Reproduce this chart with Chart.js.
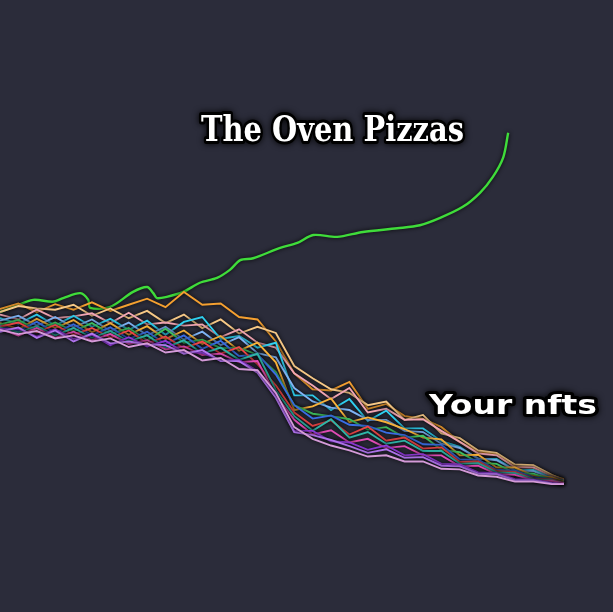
<!DOCTYPE html>
<html>
<head>
<meta charset="utf-8">
<script src="https://cdn.jsdelivr.net/npm/chart.js@4/dist/chart.umd.min.js"></script>
<style>
  html, body { margin: 0; padding: 0; background: #2b2c3a; }
  canvas { display: block; }
</style>
</head>
<body>
<canvas id="c" width="613" height="612"></canvas>
<script>
// ---- data ----
const titleMain = "The Oven Pizzas";
const titleNfts = "Your nfts";

const greenDays   = [0,2.1,5.4,8.6,10.3,13.1,14.4,14.7,17.9,21.7,24.0,25.0,25.6,27.2,29.9,32.6,35.4,37.5,39.2,41.3,45.7,48.5,51.1,55.0,59.2,64.8,68.5,71.8,75.5,78.3,80.4,82.1,82.9];
const greenValues = [49.0,49.8,51.0,50.7,51.3,52.1,51.0,49.7,49.8,52.3,53.1,52.1,51.3,51.5,52.3,53.8,54.6,55.9,57.5,57.8,59.5,60.3,61.6,61.3,62.1,62.7,63.2,64.4,66.2,68.5,71.1,74.3,78.3];

const nftDays = [0,3,6,9,12,15,18,21,24,27,30,33,36,39,42,45,48,51,54,57,60,63,66,69,72,75,78,81,84,87,90,92];

const nftOrange   = [49.5,50.4,49.0,50.3,49.4,50.6,49.2,50.2,51.2,49.8,52.3,50.2,50.4,48.2,47.8,44.2,39.0,36.4,36.2,37.6,33.2,34.0,32.0,31.6,30.2,27.8,26.2,25.8,23.8,23.6,22.3,21.7];
const nftPeach    = [49.0,50.0,49.6,49.4,50.2,48.4,49.6,48.0,49.2,47.2,48.6,46.4,47.8,45.5,46.6,45.6,40.2,38.2,36.4,35.8,33.8,34.4,31.4,32.2,29.2,28.4,26.4,26.0,24.1,24.0,22.4,21.6];
const nftPink     = [48.6,47.8,49.4,48.0,48.3,48.8,47.2,48.9,47.0,47.3,46.8,47.0,44.9,46.2,44.0,43.2,39.0,37.0,34.8,36.6,32.6,33.2,31.4,31.5,29.6,27.8,25.9,25.6,23.6,23.6,22.1,21.5];
const nftCyan     = [48.0,47.1,48.6,46.8,48.4,46.6,47.9,46.1,47.6,45.3,47.4,48.2,44.6,45.1,43.2,44.0,35.4,35.4,33.0,34.8,31.2,32.9,30.0,30.0,27.9,27.0,25.0,25.0,23.2,23.2,21.9,21.4];
const nftSky      = [47.6,48.4,46.8,48.2,46.5,47.8,45.9,47.3,45.2,46.6,44.5,45.8,43.6,44.9,42.3,41.6,36.6,34.4,33.4,33.0,31.4,31.4,29.6,29.4,27.5,26.8,25.1,24.8,23.1,23.0,21.8,21.3];
const nftAmber    = [47.2,46.2,47.9,46.4,47.7,45.7,47.2,45.3,46.7,44.6,46.0,43.8,45.1,42.7,44.0,40.8,33.0,33.6,34.9,31.0,31.8,31.0,29.9,28.5,28.2,25.6,25.7,23.6,23.6,22.3,22.0,21.3];
const nftGreen    = [47.0,47.7,46.1,47.3,45.9,47.2,45.4,46.4,44.4,46.3,44.0,44.5,43.1,43.2,42.0,39.2,33.8,32.4,32.0,31.5,29.8,30.2,28.5,28.8,26.5,26.1,24.4,24.2,22.7,22.6,21.6,21.2];
const nftBlue     = [46.8,45.9,47.4,45.6,47.0,45.2,46.5,44.6,45.8,43.8,45.2,43.0,44.3,41.8,42.1,38.8,33.8,31.6,32.1,30.6,30.4,29.3,28.9,27.4,27.3,24.9,24.9,23.2,23.1,22.0,21.7,21.1];
const nftRed      = [46.6,47.3,45.7,46.9,45.3,46.4,44.8,46.0,43.9,45.0,43.1,44.2,42.2,43.3,40.5,37.0,32.6,30.4,31.3,29.0,30.3,28.0,28.5,26.7,26.9,24.5,24.6,23.0,22.9,21.8,21.6,21.1];
const nftTeal     = [46.5,45.7,46.7,45.2,46.4,44.8,45.9,44.2,45.2,43.2,44.4,42.2,43.2,41.2,42.2,36.2,32.0,29.6,31.5,28.5,29.4,27.5,28.0,26.3,26.3,24.2,24.3,22.8,22.7,21.7,21.5,21.0];
const nftMagenta  = [46.3,45.2,46.4,44.8,45.8,44.4,45.4,43.8,44.4,42.9,43.4,42.0,42.2,40.8,41.0,35.4,31.4,29.0,29.7,27.7,28.3,26.8,27.1,25.6,25.6,23.8,23.9,22.5,22.4,21.5,21.4,21.0];
const nftPurple   = [46.2,46.3,45.0,46.2,44.6,45.3,43.6,44.9,43.4,44.3,42.4,42.4,41.1,41.2,39.4,35.6,29.6,29.6,27.9,27.7,26.5,27.2,25.6,25.8,24.2,24.1,22.8,22.7,21.7,21.6,21.1,20.9];
const nftViolet   = [45.8,46.5,44.8,46.0,44.2,45.5,43.9,44.2,43.7,43.6,42.2,42.8,41.0,41.0,39.1,35.0,29.4,28.9,28.1,27.1,26.0,26.6,25.2,25.3,23.9,23.8,22.6,22.5,21.5,21.5,21.0,20.9];
const nftLavender = [46.1,45.4,45.9,44.7,45.2,44.2,44.7,43.3,43.9,42.4,42.8,41.1,41.5,39.7,39.5,35.8,30.2,28.3,27.2,26.4,25.4,25.6,24.6,24.6,23.4,23.3,22.3,22.1,21.3,21.3,20.9,20.9];

// ---- styling ----
const nftSeries = [
  [nftLavender, '#d49ad8'], [nftViolet, '#b476f2'], [nftPurple, '#9a3ee8'],
  [nftMagenta, '#e04cb4'], [nftTeal, '#2fb6a8'], [nftRed, '#f04848'],
  [nftBlue, '#3a6ee6'], [nftGreen, '#3fc060'], [nftAmber, '#f8b23a'],
  [nftSky, '#7fb4f5'], [nftCyan, '#2fd0f0'], [nftPink, '#f2a6b4'],
  [nftPeach, '#f6c886'], [nftOrange, '#f5a030']
];

const datasets = nftSeries.map(([vals, col]) => ({
  data: vals.map((v, i) => ({ x: nftDays[i], y: v })),
  borderColor: col,
  borderWidth: 1.9,
  tension: 0,
  pointRadius: 0
}));

datasets.push({
  data: greenValues.map((v, i) => ({ x: greenDays[i], y: v })),
  borderColor: '#3fdc3a',
  borderWidth: 2.4,
  tension: 0.3,
  pointRadius: 0
});

const shadowPlugin = {
  id: 'shadow',
  beforeDatasetDraw(chart) {
    const ctx = chart.ctx;
    ctx.save();
    ctx.shadowColor = 'rgba(0,0,0,0.95)';
    ctx.shadowBlur = 4;
  },
  afterDatasetDraw(chart) {
    chart.ctx.restore();
  }
};

function outlinedText(ctx, text, x, y, font, width) {
  ctx.save();
  ctx.font = font;
  const w = ctx.measureText(text).width;
  ctx.translate(x, y);
  ctx.scale(width / w, 1);
  ctx.textBaseline = 'alphabetic';
  ctx.lineJoin = 'round';
  ctx.shadowColor = 'rgba(0,0,0,0.9)';
  ctx.shadowBlur = 6;
  ctx.strokeStyle = '#000000';
  ctx.lineWidth = 6;
  ctx.strokeText(text, 0, 0);
  ctx.shadowBlur = 0;
  ctx.fillStyle = '#ffffff';
  ctx.fillText(text, 0, 0);
  ctx.restore();
}

const labelPlugin = {
  id: 'labels',
  afterDraw(chart) {
    const ctx = chart.ctx;
    outlinedText(ctx, titleMain, 201, 141, 'bold 36px "DejaVu Serif"', 263);
    outlinedText(ctx, titleNfts, 429, 414, 'bold 27px "DejaVu Sans"', 168);
  }
};

new Chart(document.getElementById('c'), {
  type: 'line',
  data: { datasets },
  options: {
    responsive: false,
    animation: false,
    layout: { padding: 0 },
    scales: {
      x: { type: 'linear', min: 0, max: 100, display: false },
      y: { type: 'linear', min: 0, max: 100, display: false }
    },
    plugins: { legend: { display: false }, tooltip: { enabled: false } }
  },
  plugins: [shadowPlugin, labelPlugin]
});
</script>
</body>
</html>
